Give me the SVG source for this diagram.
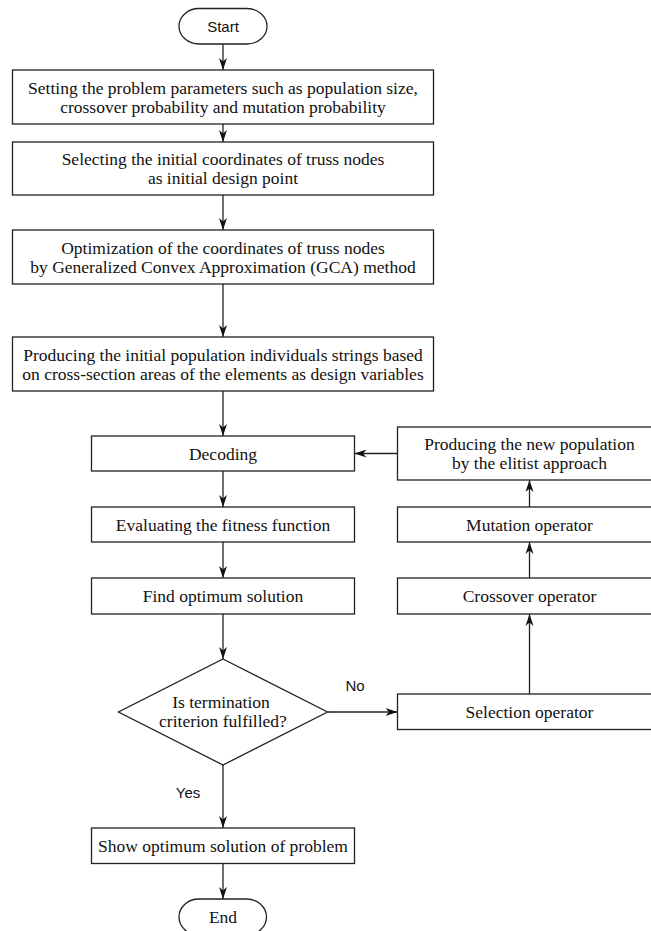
<svg xmlns="http://www.w3.org/2000/svg" width="651" height="931" viewBox="0 0 651 931">
<style>
.box{fill:#fff;stroke:#222;stroke-width:1.3}
.t{font-family:"Liberation Serif","Times New Roman",serif;font-size:17.5px;fill:#111;text-anchor:middle}
.s{font-family:"Liberation Sans",Arial,sans-serif;font-size:15px;fill:#111;text-anchor:middle}
.ln{fill:none;stroke:#222;stroke-width:1.3}
</style>
<defs>
<marker id="ah" markerUnits="userSpaceOnUse" viewBox="-13 -5 14 10" refX="0" refY="0" markerWidth="14" markerHeight="10" orient="auto">
<path d="M0,0 L-12,-4 L-8.5,0 L-12,4 Z" fill="#111"/>
</marker>
</defs>
<rect width="651" height="931" fill="#fff"/>
<g id="connectors">
<line class="ln" x1="223" y1="44" x2="223" y2="70" marker-end="url(#ah)"/>
<line class="ln" x1="223" y1="124" x2="223" y2="142" marker-end="url(#ah)"/>
<line class="ln" x1="223" y1="195" x2="223" y2="230" marker-end="url(#ah)"/>
<line class="ln" x1="223" y1="284" x2="223" y2="337" marker-end="url(#ah)"/>
<line class="ln" x1="223" y1="391" x2="223" y2="436" marker-end="url(#ah)"/>
<line class="ln" x1="223" y1="471" x2="223" y2="507" marker-end="url(#ah)"/>
<line class="ln" x1="223" y1="542" x2="223" y2="578" marker-end="url(#ah)"/>
<line class="ln" x1="223" y1="614" x2="223" y2="659" marker-end="url(#ah)"/>
<line class="ln" x1="223" y1="765" x2="223" y2="828" marker-end="url(#ah)"/>
<line class="ln" x1="223" y1="863" x2="223" y2="899" marker-end="url(#ah)"/>
<line class="ln" x1="327.5" y1="712" x2="397.5" y2="712" marker-end="url(#ah)"/>
<line class="ln" x1="529.5" y1="694" x2="529.5" y2="614" marker-end="url(#ah)"/>
<line class="ln" x1="529.5" y1="578" x2="529.5" y2="542" marker-end="url(#ah)"/>
<line class="ln" x1="529.5" y1="507" x2="529.5" y2="480" marker-end="url(#ah)"/>
<line class="ln" x1="397.5" y1="453.5" x2="354.5" y2="453.5" marker-end="url(#ah)"/>
<text class="s" x="355" y="690.5">No</text>
<text class="s" x="188" y="797.5">Yes</text>
</g>
<g id="start">
<rect class="box" x="179" y="8.5" width="88" height="35.5" rx="20" ry="17.75"/>
<text class="s" x="223" y="31.5">Start</text>
</g>
<g id="setparams">
<rect class="box" x="12.5" y="70" width="421" height="54"/>
<text class="t" x="223" y="93.5">Setting the problem parameters such as population size,</text>
<text class="t" x="223" y="112.5">crossover probability and mutation probability</text>
</g>
<g id="initcoords">
<rect class="box" x="12.5" y="142" width="421" height="53"/>
<text class="t" x="223" y="165">Selecting the initial coordinates of truss nodes</text>
<text class="t" x="223" y="184">as initial design point</text>
</g>
<g id="gca">
<rect class="box" x="12.5" y="230" width="421" height="54"/>
<text class="t" x="223" y="253.5">Optimization of the coordinates of truss nodes</text>
<text class="t" x="223" y="272.5">by Generalized Convex Approximation (GCA) method</text>
</g>
<g id="initpop">
<rect class="box" x="12.5" y="337" width="421" height="54"/>
<text class="t" x="223" y="361">Producing the initial population individuals strings based</text>
<text class="t" x="223" y="380">on cross-section areas of the elements as design variables</text>
</g>
<g id="decoding">
<rect class="box" x="91.5" y="436" width="263" height="35"/>
<text class="t" x="223" y="459.5">Decoding</text>
</g>
<g id="fitness">
<rect class="box" x="91.5" y="507" width="263" height="35"/>
<text class="t" x="223" y="530.5">Evaluating the fitness function</text>
</g>
<g id="findopt">
<rect class="box" x="91.5" y="578" width="263" height="36"/>
<text class="t" x="223" y="602">Find optimum solution</text>
</g>
<g id="decision">
<polygon class="box" points="223,659 327.5,712 223,765 118.5,712"/>
<text class="t" x="221" y="708">Is termination</text>
<text class="t" x="223" y="727">criterion fulfilled?</text>
</g>
<g id="showopt">
<rect class="box" x="91.5" y="828" width="263" height="35.5"/>
<text class="t" x="223" y="851.5">Show optimum solution of problem</text>
</g>
<g id="end">
<rect class="box" x="179" y="899" width="87.5" height="36" rx="20" ry="18"/>
<text class="t" x="223" y="922.5">End</text>
</g>
<g id="newpop">
<rect class="box" x="397.5" y="427" width="256" height="53"/>
<text class="t" x="529.5" y="450">Producing the new population</text>
<text class="t" x="529.5" y="469">by the elitist approach</text>
</g>
<g id="mutation">
<rect class="box" x="397.5" y="507" width="256" height="35"/>
<text class="t" x="529.5" y="530.5">Mutation operator</text>
</g>
<g id="crossover">
<rect class="box" x="397.5" y="578" width="256" height="36"/>
<text class="t" x="529.5" y="602">Crossover operator</text>
</g>
<g id="selection">
<rect class="box" x="397.5" y="694" width="256" height="35.5"/>
<text class="t" x="529.5" y="717.5">Selection operator</text>
</g>
</svg>
